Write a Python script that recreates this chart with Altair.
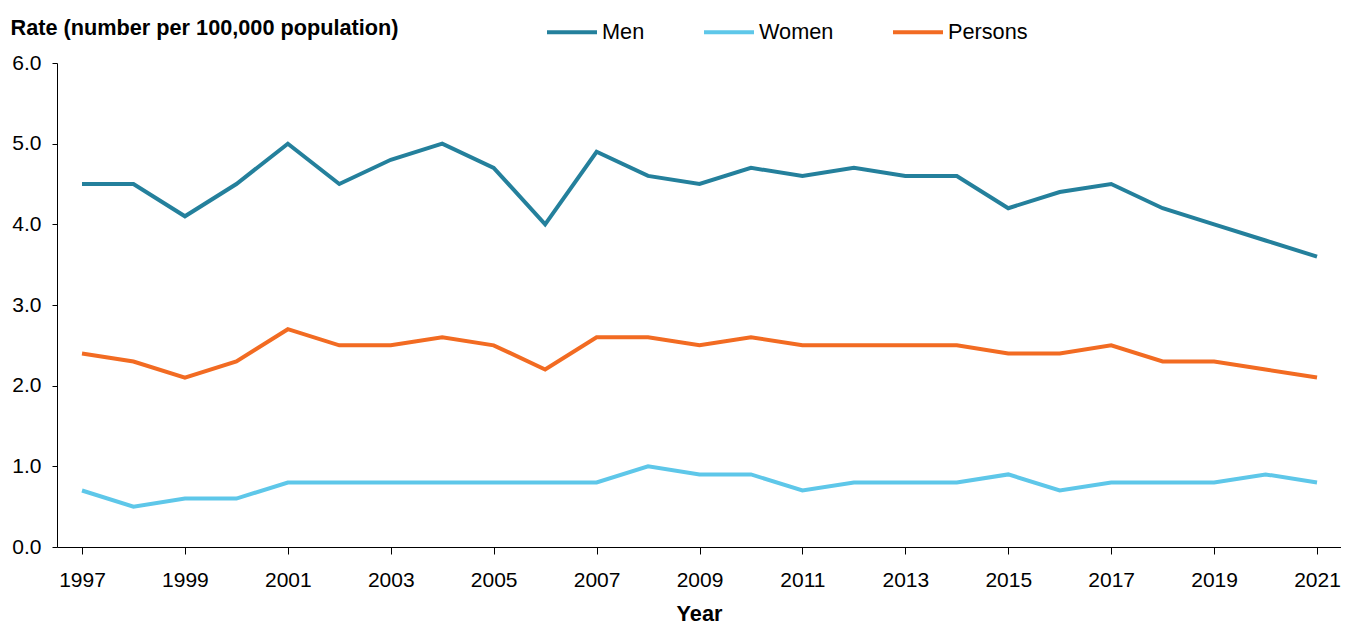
import altair as alt
import pandas as pd

years = list(range(1997, 2022))
men = [4.5, 4.5, 4.1, 4.5, 5.0, 4.5, 4.8, 5.0, 4.7, 4.0, 4.9, 4.6, 4.5, 4.7, 4.6, 4.7, 4.6, 4.6, 4.2, 4.4, 4.5, 4.2, 4.0, 3.8, 3.6]
women = [0.7, 0.5, 0.6, 0.6, 0.8, 0.8, 0.8, 0.8, 0.8, 0.8, 0.8, 1.0, 0.9, 0.9, 0.7, 0.8, 0.8, 0.8, 0.9, 0.7, 0.8, 0.8, 0.8, 0.9, 0.8]
persons = [2.4, 2.3, 2.1, 2.3, 2.7, 2.5, 2.5, 2.6, 2.5, 2.2, 2.6, 2.6, 2.5, 2.6, 2.5, 2.5, 2.5, 2.5, 2.4, 2.4, 2.5, 2.3, 2.3, 2.2, 2.1]
series = ["Men", "Women", "Persons"]
colors = ["#24809c", "#5ec7e9", "#f26b22"]
x_ticks = list(range(1997, 2022, 2))
y_ticks = [0, 1, 2, 3, 4, 5, 6]

rows = []
for name, vals in zip(series, [men, women, persons]):
    for yr, v in zip(years, vals):
        rows.append({"Year": yr, "Rate": v, "Series": name})
df = pd.DataFrame(rows)

FONT = "Liberation Sans"

chart = alt.Chart(df).mark_line(strokeWidth=4).encode(
    x=alt.X("Year:Q",
            scale=alt.Scale(domain=[1996.514, 2021.466], nice=False, zero=False),
            axis=alt.Axis(values=x_ticks, format="d", title="Year", grid=False,
                          domainColor="#000000", tickColor="#000000", tickSize=7,
                          labelFontSize=21, labelColor="#000000", labelPadding=15,
                          titleFontSize=21.7, titleFontWeight="bold", titleColor="#000000",
                          titlePadding=13, labelFlush=False)),
    y=alt.Y("Rate:Q",
            scale=alt.Scale(domain=[0, 6], nice=False),
            axis=alt.Axis(values=y_ticks, format=".1f", grid=False,
                          title="Rate (number per 100,000 population)",
                          domainColor="#000000", tickColor="#000000", tickSize=5,
                          labelFontSize=21, labelColor="#000000", labelPadding=11,
                          titleFontSize=21.7, titleFontWeight="bold", titleColor="#000000",
                          titleAngle=0, titleAlign="left", titleBaseline="middle",
                          titleX=-47, titleY=-36)),
    color=alt.Color("Series:N",
                    scale=alt.Scale(domain=series, range=colors),
                    sort=series,
                    legend=alt.Legend(title=None, orient="none", direction="horizontal",
                                      legendX=488, legendY=-58,
                                      symbolType="stroke", symbolSize=2500,
                                      symbolStrokeWidth=4, labelFontSize=21.7,
                                      labelColor="#000000", labelOffset=3,
                                      columnPadding=51)),
).properties(
    width=1284, height=484,
    padding={"left": 49, "top": 55, "right": 0, "bottom": 79},
    autosize=alt.AutoSizeParams(type="none"),
).configure(font=FONT).configure_view(stroke=None)

chart.save("out.html", embed_options={"renderer": "svg", "actions": False})
